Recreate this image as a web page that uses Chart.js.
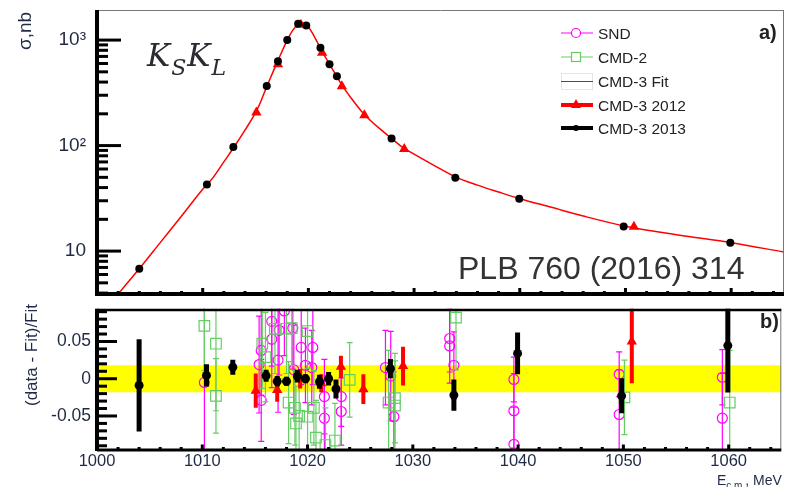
<!DOCTYPE html>
<html>
<head>
<meta charset="utf-8">
<script src="https://cdn.jsdelivr.net/npm/chart.js@4.4.1/dist/chart.umd.min.js"></script>
<style>
  body { margin: 0; background: #fff; }
  #wrap { position: relative; width: 790px; height: 487px; overflow: hidden; font-family: "Liberation Sans", Arial, sans-serif; color: #1f2a44; }
  canvas { position: absolute; left: 0; }
  #cTop { top: 0; }
  #cBot { top: 300px; }
  .t { position: absolute; white-space: nowrap; line-height: 1; }
  .rot { position: absolute; white-space: nowrap; line-height: 1; transform: translate(-50%, -50%) rotate(-90deg); }
  .leg { position: absolute; left: 561px; width: 200px; height: 20px; }
  .leg svg { position: absolute; left: 0; top: 0; }
  .leg span { position: absolute; left: 37px; top: 2.6px; font-size: 15.5px; line-height: 1; color: #222; white-space: nowrap; }
  #kk { font-family: "DejaVu Serif", serif; font-style: italic; font-size: 31px; color: #2a2a33; left: 147px; top: 40px; letter-spacing: 1px; }
  #kk sub { font-size: 22px; vertical-align: -9px; }
</style>
</head>
<body>
<div id="wrap">
  <canvas id="cTop" width="790" height="300"></canvas>
  <canvas id="cBot" width="790" height="187"></canvas>

  <div class="rot" style="left:24px;top:31px;font-size:19px;">σ,nb</div>
  <div class="rot" style="left:31px;top:355px;font-size:17px;">(data - Fit)/Fit</div>
  <div class="t" id="kk">K<sub>S</sub>K<sub>L</sub></div>
  <div class="t" style="left:759px;top:21.5px;font-size:20px;font-weight:bold;color:#222;">a)</div>
  <div class="t" style="left:760px;top:311px;font-size:20px;font-weight:bold;color:#222;">b)</div>
  <div class="t" style="left:458px;top:252px;font-size:32px;color:#333;">PLB 760 (2016) 314</div>
  <div class="t" style="left:717px;top:473px;font-size:14px;color:#1f2a44;">E<span style="font-size:10px;position:relative;top:4px;">c.m.</span>, MeV</div>

  <div class="leg" style="top:23px;">
    <svg width="32" height="20"><line x1="0" y1="10" x2="32" y2="10" stroke="#ff00ff" stroke-width="1"/><circle cx="15" cy="10" r="4.5" fill="#fff" stroke="#ff00ff" stroke-width="1.2"/></svg>
    <span>SND</span>
  </div>
  <div class="leg" style="top:47px;">
    <svg width="32" height="20"><line x1="0" y1="10" x2="32" y2="10" stroke="#66cc66" stroke-width="1"/><rect x="10.5" y="5.5" width="9" height="9" fill="#fff" stroke="#66cc66" stroke-width="1.2"/></svg>
    <span>CMD-2</span>
  </div>
  <div class="leg" style="top:71px;">
    <svg width="32" height="20"><rect x="0.5" y="2.5" width="31" height="16" fill="#fff" stroke="#e4e4e4" stroke-width="1"/><line x1="0" y1="10.5" x2="32" y2="10.5" stroke="#ff0000" stroke-width="1"/></svg>
    <span>CMD-3 Fit</span>
  </div>
  <div class="leg" style="top:95px;">
    <svg width="32" height="20"><line x1="0" y1="10" x2="32" y2="10" stroke="#ff0000" stroke-width="4"/><polygon points="15,4 20,13 10,13" fill="#ff0000"/></svg>
    <span>CMD-3 2012</span>
  </div>
  <div class="leg" style="top:118px;">
    <svg width="32" height="20"><line x1="0" y1="10" x2="32" y2="10" stroke="#000" stroke-width="4"/><circle cx="15" cy="10" r="3" fill="#000"/></svg>
    <span>CMD-3 2013</span>
  </div>
</div>

<script>
// ---- data ---- //
// fit curve, E (MeV) and sigma (nb)
const fitE = [1001.5, 1002, 1004, 1006, 1008, 1010, 1011, 1012, 1013, 1014, 1015, 1015.5, 1016, 1016.5, 1017, 1017.5,
  1018, 1018.5, 1019, 1019.3, 1019.6, 1020, 1020.5, 1021, 1021.5, 1022, 1022.5, 1023, 1023.5, 1024, 1025, 1026,
  1027, 1028, 1029, 1030, 1032, 1034, 1036, 1038, 1040, 1043, 1046, 1050, 1055, 1060, 1065];
const fitSigma = [3.3, 3.9, 6.8, 12.1, 21.5, 38.5, 50, 70, 98, 140, 205, 262, 350, 460, 600, 780,
  1000, 1230, 1410, 1460, 1430, 1330, 1110, 890, 720, 590, 485, 400, 335, 286, 213, 168,
  138, 114, 95, 83, 64, 50, 42.2, 36.3, 31.4, 26, 21.5, 17.2, 14.2, 12.0, 9.8];

// CMD-3 2012
const e2012 = [1015.08, 1017.12, 1019.3, 1021.3, 1023.17, 1025.3, 1029.07, 1050.8];
const sigma2012 = [206, 590, 1400, 760, 365, 194, 93, 17.0];
const res2012 = [-0.016, -0.015, 0.0, -0.006, 0.016, -0.014, 0.017, 0.05];
const err2012 = [0.023, 0.016, 0.013, 0.012, 0.015, 0.02, 0.026, 0.056];

// CMD-3 2013
const e2013 = [1004.0, 1010.4, 1012.9, 1016.06, 1017.12, 1018.0, 1019.03, 1019.8, 1021.14, 1022.0, 1022.7,
  1027.87, 1033.9, 1039.95, 1049.83, 1059.92];
const sigma2013 = [6.8, 42.8, 96.8, 367, 630, 1000, 1425, 1375, 846, 590, 453, 117, 49.6, 31.4, 17.1, 12.0];
const res2013 = [-0.009, 0.0045, 0.0155, 0.004, -0.0035, -0.0035, 0.0035, 0.0, -0.004, 0.0, -0.0137,
  0.0135, -0.022, 0.034, -0.023, 0.0445];
const err2013 = [0.062, 0.015, 0.01, 0.008, 0.007, 0.006, 0.0085, 0.006, 0.0095, 0.009, 0.0127,
  0.013, 0.021, 0.028, 0.0235, 0.063];

// SND
const eSND = [1010.2, 1015.4, 1015.6, 1015.6, 1016.6, 1016.6, 1017.3, 1017.2, 1017.8, 1018.6, 1018.7, 1019.4,
  1019.8, 1020.5, 1020.4, 1021.6, 1021.6, 1023.2, 1023.2, 1027.4, 1027.9, 1028.2, 1033.5, 1033.5, 1033.9,
  1039.6, 1039.6, 1039.6, 1049.6, 1049.6, 1059.4, 1059.4];
const resSND = [-0.005, 0.019, -0.029, 0.038, 0.077, 0.053, 0.065, 0.025, 0.091, 0.068, 0.012, 0.042,
  0.018, 0.042, 0.015, -0.024, -0.053, -0.024, -0.044, 0.015, 0.0035, -0.051, 0.054, 0.044, 0.018,
  -0.001, -0.043, -0.088, 0.006, -0.048, 0.002, -0.053];
const errSND = [0.11, 0.065, 0.055, 0.06, 0.06, 0.065, 0.06, 0.07, 0.06, 0.055, 0.06, 0.05,
  0.05, 0.05, 0.05, 0.05, 0.05, 0.04, 0.045, 0.05, 0.06, 0.06, 0.045, 0.05, 0.045,
  0.03, 0.05, 0.05, 0.03, 0.06, 0.037, 0.06];

// CMD-2
const eCMD2 = [1010.2, 1011.3, 1011.3, 1015.7, 1016.0, 1016.9, 1018.0, 1018.2, 1018.5, 1018.8, 1018.9, 1019.2,
  1020.0, 1020.0, 1020.6, 1020.8, 1021.7, 1022.6, 1024.0, 1027.7, 1028.3, 1028.3, 1034.1, 1050.1, 1060.1];
const resCMD2 = [0.071, 0.047, -0.023, 0.047, 0.029, 0.067, 0.067, -0.032, 0.068, -0.039, -0.06, -0.05,
  0.064, -0.051, -0.039, -0.079, -0.089, -0.083, -0.0015, -0.032, -0.026, -0.036, 0.082, -0.025, -0.032];
const errCMD2 = [0.06, 0.09, 0.05, 0.06, 0.06, 0.06, 0.06, 0.055, 0.05, 0.05, 0.05, 0.05,
  0.05, 0.05, 0.05, 0.05, 0.05, 0.05, 0.05, 0.07, 0.06, 0.06, 0.07, 0.05, 0.07];

// yellow band and axes
const bandE = [1000, 1065];
const bandHalf = 0.018;
const xTickValues = [1000, 1010, 1020, 1030, 1040, 1050, 1060];
const topTickValues = [10, 100, 1000];
const topTickLabels = ['10', '10²', '10³'];
const resTickValues = [-0.05, 0, 0.05];
const resTickLabels = ['-0.05', '0', '0.05'];

// --- minor tick lists ---
const topMinor = [];
[1, 10, 100, 1000].forEach(d => { for (let k = 2; k <= 9; k++) { const v = k * d; if (v > 3.92 && v < 1928) topMinor.push(v); } });
const resMinor = [];
for (let k = -9; k <= 9; k++) if (k % 5 !== 0) resMinor.push(k / 100);
const xMinor = [];
for (let e = 1002; e < 1065; e += 2) if (e % 10 !== 0) xMinor.push(e);

const pts = (xs, ys) => xs.map((x, i) => ({ x: x, y: ys[i] }));
const labelColor = '#1f2a44';
Chart.defaults.font.family = '"Liberation Sans", Arial, sans-serif';

// --- error bars drawn under each dataset's markers ---
const errorBars = {
  id: 'errorBars',
  beforeDatasetDraw(chart, args) {
    const ds = chart.data.datasets[args.index];
    if (!ds.errs) return;
    const { ctx, chartArea: a } = chart;
    const ys = chart.scales.y;
    ctx.save();
    ctx.beginPath();
    ctx.rect(a.left, a.top, a.right - a.left, a.bottom - a.top);
    ctx.clip();
    ctx.strokeStyle = ds.errColor;
    ctx.lineWidth = ds.errWidth;
    args.meta.data.forEach((pt, i) => {
      const v = ds.data[i].y, e = ds.errs[i];
      const y1 = ys.getPixelForValue(v + e), y2 = ys.getPixelForValue(v - e);
      ctx.beginPath();
      ctx.moveTo(pt.x, y1); ctx.lineTo(pt.x, y2);
      if (ds.capHalf) {
        ctx.moveTo(pt.x - ds.capHalf, y1); ctx.lineTo(pt.x + ds.capHalf, y1);
        ctx.moveTo(pt.x - ds.capHalf, y2); ctx.lineTo(pt.x + ds.capHalf, y2);
      }
      ctx.stroke();
    });
    ctx.restore();
  }
};

// --- ROOT style frame with inward ticks ---
const frame = {
  id: 'frame',
  afterDraw(chart, args, o) {
    const { ctx, chartArea: a, scales } = chart;
    const xs = scales.x, ys = scales.y;
    const line = (x1, y1, x2, y2, w, c) => {
      ctx.beginPath(); ctx.moveTo(x1, y1); ctx.lineTo(x2, y2);
      ctx.lineWidth = w; ctx.strokeStyle = c; ctx.stroke();
    };
    ctx.save();
    ctx.lineCap = 'butt';
    if (o.thinTop) line(a.left, a.top + 0.5, a.right, a.top + 0.5, 1, '#777');
    line(a.right - 0.5, a.top, a.right - 0.5, a.bottom, 1, '#777');
    o.yMajor.forEach(v => { const y = ys.getPixelForValue(v); line(a.left, y, a.left + o.yMajorLen, y, 3, '#000'); });
    o.yMinor.forEach(v => { const y = ys.getPixelForValue(v); line(a.left, y, a.left + o.yMinorLen, y, 3, '#000'); });
    xTickValues.forEach(v => { const x = xs.getPixelForValue(v); line(x, a.bottom, x, a.bottom - o.xMajorLen, 3, '#000'); });
    xMinor.forEach(v => { const x = xs.getPixelForValue(v); line(x, a.bottom, x, a.bottom - o.xMinorLen, 3, '#000'); });
    line(a.left, a.top, a.left, a.bottom + o.bottomW / 2, 4, '#000');
    line(a.left, a.bottom + o.bottomOff, a.right, a.bottom + o.bottomOff, o.bottomW, '#000');
    if (o.topW) line(a.left, a.top + o.topW / 2, a.right, a.top + o.topW / 2, o.topW, '#000');
    ctx.restore();
  }
};

const noPad = s => { s.paddingTop = 0; s.paddingBottom = 0; s.paddingLeft = 0; s.paddingRight = 0; };

// --- top panel: cross section ---
new Chart(document.getElementById('cTop'), {
  type: 'scatter',
  data: {
    datasets: [
      { label: 'CMD-3 2013', data: pts(e2013, sigma2013), pointStyle: 'circle', pointRadius: 4,
        backgroundColor: '#000', borderColor: '#000', borderWidth: 0, order: 1 },
      { label: 'CMD-3 2012', data: pts(e2012, sigma2012), pointStyle: 'triangle', pointRadius: 6,
        backgroundColor: '#ff0000', borderColor: '#ff0000', borderWidth: 0, order: 2 },
      { label: 'CMD-3 Fit', data: pts(fitE, fitSigma), showLine: true, cubicInterpolationMode: 'monotone',
        borderColor: '#ff0000', borderWidth: 1.5, pointRadius: 0, order: 3 }
    ]
  },
  options: {
    responsive: false, animation: false,
    layout: { padding: { top: 10, right: 2, bottom: 2, left: 0 } },
    plugins: {
      legend: { display: false }, tooltip: { enabled: false },
      frame: { thinTop: true, yMajor: topTickValues, yMinor: topMinor, yMajorLen: 24, yMinorLen: 11,
        xMajorLen: 6, xMinorLen: 3, bottomW: 4, bottomOff: 0, topW: 0 }
    },
    scales: {
      x: { type: 'linear', min: 1000, max: 1065, display: false },
      y: {
        type: 'logarithmic', min: 3.92, max: 1928,
        afterBuildTicks: s => { s.ticks = topTickValues.map(v => ({ value: v })); },
        afterFit: s => { s.width = 97; noPad(s); },
        grid: { display: false, drawTicks: false }, border: { display: false },
        ticks: { padding: 11, color: labelColor, font: { size: 19 }, autoSkip: false,
          callback: (v, i) => topTickLabels[i] }
      }
    }
  },
  plugins: [frame]
});

// --- bottom panel: residuals ---
new Chart(document.getElementById('cBot'), {
  type: 'scatter',
  data: {
    datasets: [
      { label: 'CMD-3 2013', data: pts(e2013, res2013), pointStyle: 'circle', pointRadius: 4.5,
        backgroundColor: '#000', borderColor: '#000', borderWidth: 0, order: 1,
        errs: err2013, errColor: '#000', errWidth: 5 },
      { label: 'CMD-3 2012', data: pts(e2012, res2012), pointStyle: 'triangle', pointRadius: 6,
        backgroundColor: '#ff0000', borderColor: '#ff0000', borderWidth: 0, order: 2,
        errs: err2012, errColor: '#ff0000', errWidth: 4 },
      { label: 'CMD-2', data: pts(eCMD2, resCMD2), pointStyle: 'rect', pointRadius: 7.5,
        backgroundColor: 'rgba(0,0,0,0)', borderColor: '#66cc66', borderWidth: 1.2, order: 4,
        errs: errCMD2, errColor: '#66cc66', errWidth: 1.2, capHalf: 3 },
      { label: 'SND', data: pts(eSND, resSND), pointStyle: 'circle', pointRadius: 5,
        backgroundColor: 'rgba(0,0,0,0)', borderColor: '#ff00ff', borderWidth: 1.2, order: 5,
        errs: errSND, errColor: '#ff00ff', errWidth: 1.2, capHalf: 3 },
      { label: 'band+', data: pts(bandE, bandE.map(() => bandHalf)), showLine: true, fill: '+1',
        backgroundColor: '#ffff00', borderWidth: 0, pointRadius: 0, order: 10 },
      { label: 'band-', data: pts(bandE, bandE.map(() => -bandHalf)), showLine: true,
        borderWidth: 0, pointRadius: 0, order: 11 }
    ]
  },
  options: {
    responsive: false, animation: false,
    layout: { padding: { top: 0, right: 2, bottom: 0, left: 0 } },
    plugins: {
      legend: { display: false }, tooltip: { enabled: false },
      frame: { thinTop: false, yMajor: resTickValues, yMinor: resMinor, yMajorLen: 20, yMinorLen: 10,
        xMajorLen: 5, xMinorLen: 2.5, bottomW: 3, bottomOff: 0.5, topW: 2.5 }
    },
    scales: {
      x: {
        type: 'linear', min: 1000, max: 1065,
        afterBuildTicks: s => { s.ticks = xTickValues.map(v => ({ value: v })); },
        afterFit: s => { s.height = 37.5; noPad(s); },
        grid: { display: false, drawTicks: false }, border: { display: false },
        ticks: { padding: 2, color: labelColor, font: { size: 16.5 }, maxRotation: 0, autoSkip: false,
          callback: v => String(v) }
      },
      y: {
        type: 'linear', min: -0.095, max: 0.094,
        afterBuildTicks: s => { s.ticks = resTickValues.map(v => ({ value: v })); },
        afterFit: s => { s.width = 97; noPad(s); },
        grid: { display: false, drawTicks: false }, border: { display: false },
        ticks: { padding: 6, color: labelColor, font: { size: 17.5 }, autoSkip: false,
          callback: (v, i) => resTickLabels[i] }
      }
    }
  },
  plugins: [errorBars, frame]
});
</script>
</body>
</html>
